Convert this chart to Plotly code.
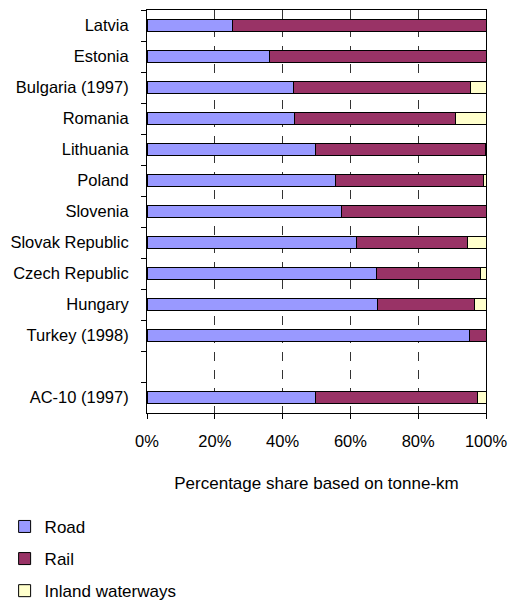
import plotly.graph_objects as go

categories = ["Latvia", "Estonia", "Bulgaria (1997)", "Romania", "Lithuania", "Poland",
              "Slovenia", "Slovak Republic", "Czech Republic", "Hungary", "Turkey (1998)",
              " ", "AC-10 (1997)"]
road = [25.3, 36.1, 43.3, 43.5, 49.6, 55.7, 57.3, 61.7, 67.8, 68.1, 95.0, None, 49.8]
rail = [74.7, 63.9, 52.1, 47.5, 50.3, 43.6, 42.7, 32.9, 30.6, 28.5, 5.0, None, 47.6]
inland = [0.0, 0.0, 4.6, 9.0, 0.1, 0.7, 0.0, 5.4, 1.6, 3.4, 0.0, None, 2.6]

series = [("Road", road, "#9999FF"), ("Rail", rail, "#993366"), ("Inland waterways", inland, "#FFFFCC")]

fig = go.Figure()
for name, vals, col in series:
    fig.add_trace(go.Bar(
        y=categories, x=vals, name=name, orientation="h",
        marker=dict(color=col, line=dict(color="black", width=1)),
        legendgroup=name,
    ))

font = "Arial, Liberation Sans, sans-serif"
fig.update_layout(
    barmode="stack",
    bargap=0.6,
    width=510, height=606,
    margin=dict(l=147, r=24, t=10, b=193, autoexpand=False),
    plot_bgcolor="white", paper_bgcolor="white",
    font=dict(family=font, size=16.5, color="black"),
    showlegend=True,
    legend=dict(
        x=-0.42, y=-0.238, xanchor="left", yanchor="top",
        traceorder="grouped", tracegroupgap=7,
        font=dict(size=17), itemwidth=30,
        bgcolor="rgba(0,0,0,0)",
    ),
    xaxis=dict(
        range=[0, 100], tickvals=[0, 20, 40, 60, 80, 100],
        ticktext=["0%", "20%", "40%", "60%", "80%", "100%"],
        showgrid=True, gridcolor="#333333", gridwidth=1, griddash="dash",
        showline=True, linecolor="black", linewidth=1, mirror=True,
        ticks="outside", ticklen=5, tickcolor="black",
        ticklabelstandoff=8, automargin=False,
        zeroline=False,
        title=dict(text="Percentage share based on tonne-km", standoff=28,
                   font=dict(size=17)),
    ),
    yaxis=dict(
        categoryorder="array", categoryarray=categories,
        autorange=False, range=[12.5, -0.5],
        tickson="boundaries", ticks="outside", ticklen=5, tickcolor="black",
        showline=True, linecolor="black", linewidth=1, mirror=True,
        showgrid=False, ticklabelstandoff=14, automargin=False,
    ),
)

fig.write_html("out.html")
